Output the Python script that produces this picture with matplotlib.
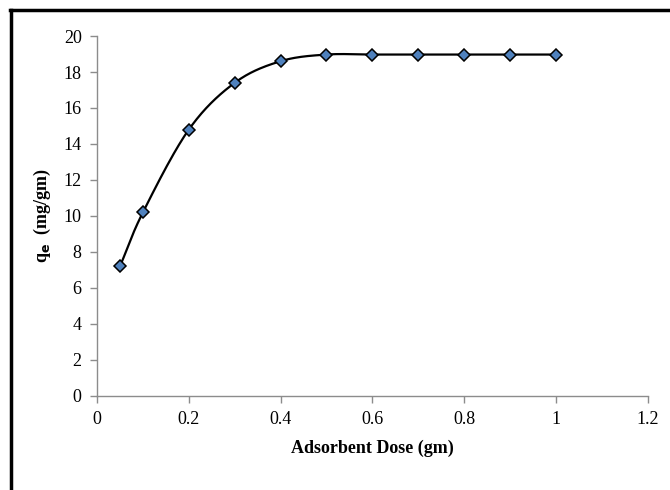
import numpy as np
import matplotlib
matplotlib.use('Agg')
import matplotlib.pyplot as plt
from matplotlib.lines import Line2D

dose = [0.05, 0.1, 0.2, 0.3, 0.4, 0.5, 0.6, 0.7, 0.8, 0.9, 1.0]
qe = [7.2, 10.2, 14.8, 17.4, 18.6, 18.97, 18.97, 18.97, 18.97, 18.97, 18.97]
x_ticks = [0, 0.2, 0.4, 0.6, 0.8, 1, 1.2]
x_labels = ['0', '0.2', '0.4', '0.6', '0.8', '1', '1.2']
y_ticks = list(range(0, 21, 2))


def smooth_line(x, y, n=30):
    # Catmull-Rom style smoothing between the points, like a spreadsheet "smoothed line"
    x = np.asarray(x, float)
    y = np.asarray(y, float)
    px = np.concatenate([[2 * x[0] - x[1]], x, [2 * x[-1] - x[-2]]])
    py = np.concatenate([[2 * y[0] - y[1]], y, [2 * y[-1] - y[-2]]])
    xs, ys = [], []
    t = np.linspace(0, 1, n)
    for i in range(1, len(px) - 2):
        x0, x1, x2, x3 = px[i - 1:i + 3]
        y0, y1, y2, y3 = py[i - 1:i + 3]
        # bezier control points
        cx1, cy1 = x1 + (x2 - x0) / 6, y1 + (y2 - y0) / 6
        cx2, cy2 = x2 - (x3 - x1) / 6, y2 - (y3 - y1) / 6
        b0 = (1 - t) ** 3
        b1 = 3 * (1 - t) ** 2 * t
        b2 = 3 * (1 - t) * t ** 2
        b3 = t ** 3
        xs.append(b0 * x1 + b1 * cx1 + b2 * cx2 + b3 * x2)
        ys.append(b0 * y1 + b1 * cy1 + b2 * cy2 + b3 * y2)
    return np.concatenate(xs), np.concatenate(ys)


plt.rcParams['font.family'] = ['Liberation Serif', 'DejaVu Serif']

fig = plt.figure(figsize=(6.7, 4.9), dpi=100)
ax = fig.add_axes([0.1448, 0.192, 0.822, 0.7345])

sx, sy = smooth_line(dose, qe)
ax.plot(sx, sy, color='black', lw=1.6, zorder=2)
ax.plot(dose, qe, linestyle='none', marker='D', markersize=6.5,
        markerfacecolor='#4F81BD', markeredgecolor='black', markeredgewidth=1.1, zorder=3)

ax.set_xlim(0, 1.2)
ax.set_ylim(0, 20)
ax.set_xticks(x_ticks)
ax.set_xticklabels(x_labels)
ax.set_yticks(y_ticks)
ax.tick_params(axis='both', direction='out', length=5, width=1, color='#8c8c8c',
               labelsize=13, pad=6)
for side in ['top', 'right']:
    ax.spines[side].set_visible(False)
for side in ['left', 'bottom']:
    ax.spines[side].set_color('#8c8c8c')
    ax.spines[side].set_linewidth(1)

ax.set_xlabel('Adsorbent Dose (gm)', fontsize=13, fontweight='bold', labelpad=8)
ax.set_ylabel(r'q$_\mathbf{e}$  (mg/gm)', fontsize=13, fontweight='bold', labelpad=8)

# outer frame (top and left edges)
fig.add_artist(Line2D([0.015, 1.0], [0.979, 0.979], color='black', lw=2.5,
                      transform=fig.transFigure))
fig.add_artist(Line2D([0.016, 0.016], [0.0, 0.98], color='black', lw=2.5,
                      transform=fig.transFigure))

fig.savefig('out.png', dpi=100)
